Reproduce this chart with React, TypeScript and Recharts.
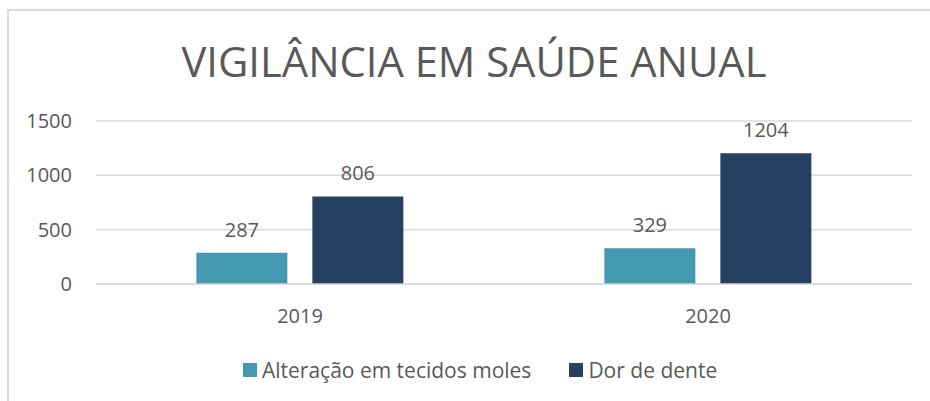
import { BarChart, Bar, XAxis, YAxis, CartesianGrid, LabelList } from "recharts";

const title = "VIGILÂNCIA EM SAÚDE ANUAL";
const years = ["2019", "2020"];
const alteracao = [287, 329];
const dorDeDente = [806, 1204];
const yTicks = [0, 500, 1000, 1500];
const seriesNames = ["Alteração em tecidos moles", "Dor de dente"];
const seriesColors = ["#4399B1", "#264061"];

const data = years.map((year, i) => ({
  year,
  alteracao: alteracao[i],
  dor: dorDeDente[i],
}));

const font = "'Open Sans', sans-serif";
const textColor = "#595959";

export default function App() {
  return (
    <div
      style={{
        position: "absolute",
        left: 0,
        top: 0,
        width: 930,
        height: 401,
        background: "#fff",
        overflow: "hidden",
        fontFamily: font,
      }}
    >
      <div
        style={{
          position: "absolute",
          left: 7,
          top: 9,
          width: 940,
          height: 400,
          borderTop: "2px solid #d9d9d9",
          borderLeft: "2px solid #d9d9d9",
        }}
      />
      <svg width={930} height={100} style={{ position: "absolute", left: 0, top: 0 }}>
        <text
          x={474}
          y={77}
          textAnchor="middle"
          fontFamily={font}
          fontWeight={400}
          fontSize={42}
          fill={textColor}
          textLength={585}
          lengthAdjust="spacingAndGlyphs"
        >
          {title}
        </text>
      </svg>
      <div style={{ position: "absolute", left: 0, top: 0 }}>
        <BarChart
          width={930}
          height={401}
          data={data}
          margin={{ top: 121, right: 18, bottom: 67, left: 0 }}
          barCategoryGap="24.6%"
          barGap={25}
        >
          <CartesianGrid vertical={false} stroke="#d9d9d9" strokeWidth={1.5} />
          <XAxis
            dataKey="year"
            height={50}
            axisLine={{ stroke: "#d9d9d9", strokeWidth: 1.5 }}
            tickLine={false}
            tickSize={0}
            tickMargin={25}
            tick={{ fontSize: 20, fill: textColor, fontFamily: font }}
          />
          <YAxis
            width={96}
            domain={[0, 1500]}
            ticks={yTicks}
            axisLine={false}
            tickLine={false}
            tickSize={0}
            tickMargin={24}
            tick={{ fontSize: 20, fill: textColor, fontFamily: font }}
          />
          <Bar dataKey="alteracao" fill={seriesColors[0]} isAnimationActive={false}>
            <LabelList
              dataKey="alteracao"
              position="top"
              offset={16}
              style={{ fontSize: 20, fill: textColor, fontFamily: font }}
            />
          </Bar>
          <Bar dataKey="dor" fill={seriesColors[1]} isAnimationActive={false}>
            <LabelList
              dataKey="dor"
              position="top"
              offset={16}
              style={{ fontSize: 20, fill: textColor, fontFamily: font }}
            />
          </Bar>
        </BarChart>
      </div>
      <div
        style={{
          position: "absolute",
          left: 243,
          top: 356,
          display: "flex",
          alignItems: "center",
          height: 28,
          fontSize: 21,
          color: textColor,
          whiteSpace: "nowrap",
        }}
      >
        {seriesNames.map((name, i) => (
          <div
            key={name}
            style={{ display: "flex", alignItems: "center", marginRight: i === 0 ? 38 : 0 }}
          >
            <span
              style={{
                display: "inline-block",
                width: 14,
                height: 14,
                background: seriesColors[i],
                marginRight: 5,
              }}
            />
            <span>{name}</span>
          </div>
        ))}
      </div>
    </div>
  );
}
